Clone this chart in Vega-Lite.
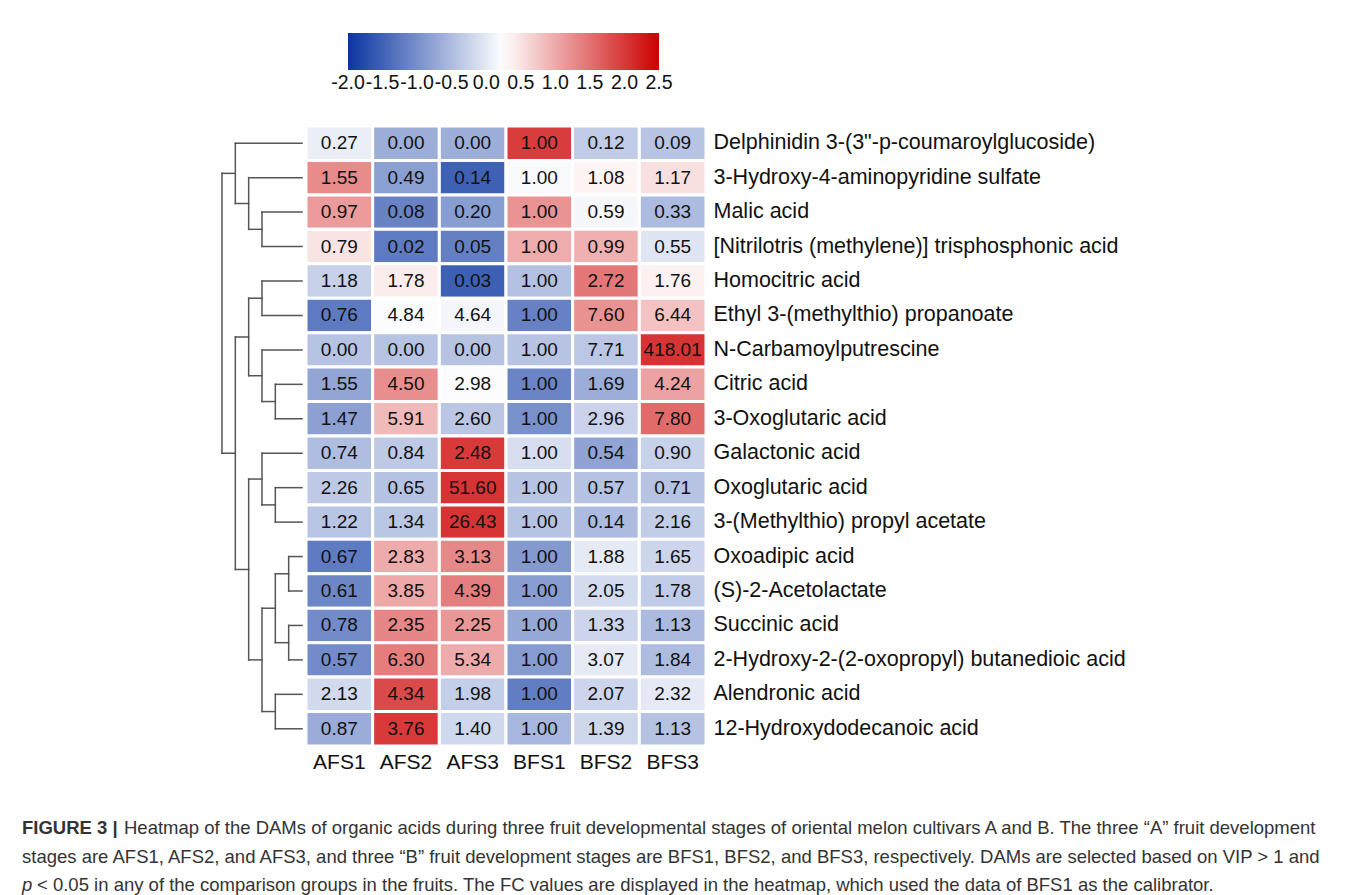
{
  "$schema": "https://vega.github.io/schema/vega-lite/v6.json",
  "background": "white",
  "padding": {"left": 22, "top": 33, "right": 0, "bottom": 0},
  "config": {"view": {"stroke": null}, "font": "Liberation Sans"},
  "datasets": {
    "cells": [
      {"m": "Delphinidin 3-(3\"-p-coumaroylglucoside)", "r": 1, "s": "AFS1", "fc": 0.27, "z": 0.06},
      {"m": "Delphinidin 3-(3\"-p-coumaroylglucoside)", "r": 1, "s": "AFS2", "fc": 0.00, "z": -0.65},
      {"m": "Delphinidin 3-(3\"-p-coumaroylglucoside)", "r": 1, "s": "AFS3", "fc": 0.00, "z": -0.65},
      {"m": "Delphinidin 3-(3\"-p-coumaroylglucoside)", "r": 1, "s": "BFS1", "fc": 1.00, "z": 1.97},
      {"m": "Delphinidin 3-(3\"-p-coumaroylglucoside)", "r": 1, "s": "BFS2", "fc": 0.12, "z": -0.33},
      {"m": "Delphinidin 3-(3\"-p-coumaroylglucoside)", "r": 1, "s": "BFS3", "fc": 0.09, "z": -0.41},
      {"m": "3-Hydroxy-4-aminopyridine sulfate", "r": 2, "s": "AFS1", "fc": 1.55, "z": 1.27},
      {"m": "3-Hydroxy-4-aminopyridine sulfate", "r": 2, "s": "AFS2", "fc": 0.49, "z": -0.82},
      {"m": "3-Hydroxy-4-aminopyridine sulfate", "r": 2, "s": "AFS3", "fc": 0.14, "z": -1.51},
      {"m": "3-Hydroxy-4-aminopyridine sulfate", "r": 2, "s": "BFS1", "fc": 1.00, "z": 0.19},
      {"m": "3-Hydroxy-4-aminopyridine sulfate", "r": 2, "s": "BFS2", "fc": 1.08, "z": 0.35},
      {"m": "3-Hydroxy-4-aminopyridine sulfate", "r": 2, "s": "BFS3", "fc": 1.17, "z": 0.52},
      {"m": "Malic acid", "r": 3, "s": "AFS1", "fc": 0.97, "z": 1.13},
      {"m": "Malic acid", "r": 3, "s": "AFS2", "fc": 0.08, "z": -1.14},
      {"m": "Malic acid", "r": 3, "s": "AFS3", "fc": 0.20, "z": -0.84},
      {"m": "Malic acid", "r": 3, "s": "BFS1", "fc": 1.00, "z": 1.20},
      {"m": "Malic acid", "r": 3, "s": "BFS2", "fc": 0.59, "z": 0.16},
      {"m": "Malic acid", "r": 3, "s": "BFS3", "fc": 0.33, "z": -0.51},
      {"m": "[Nitrilotris (methylene)] trisphosphonic acid", "r": 4, "s": "AFS1", "fc": 0.79, "z": 0.50},
      {"m": "[Nitrilotris (methylene)] trisphosphonic acid", "r": 4, "s": "AFS2", "fc": 0.02, "z": -1.23},
      {"m": "[Nitrilotris (methylene)] trisphosphonic acid", "r": 4, "s": "AFS3", "fc": 0.05, "z": -1.17},
      {"m": "[Nitrilotris (methylene)] trisphosphonic acid", "r": 4, "s": "BFS1", "fc": 1.00, "z": 0.98},
      {"m": "[Nitrilotris (methylene)] trisphosphonic acid", "r": 4, "s": "BFS2", "fc": 0.99, "z": 0.95},
      {"m": "[Nitrilotris (methylene)] trisphosphonic acid", "r": 4, "s": "BFS3", "fc": 0.55, "z": -0.04},
      {"m": "Homocitric acid", "r": 5, "s": "AFS1", "fc": 1.18, "z": -0.26},
      {"m": "Homocitric acid", "r": 5, "s": "AFS2", "fc": 1.78, "z": 0.41},
      {"m": "Homocitric acid", "r": 5, "s": "AFS3", "fc": 0.03, "z": -1.53},
      {"m": "Homocitric acid", "r": 5, "s": "BFS1", "fc": 1.00, "z": -0.45},
      {"m": "Homocitric acid", "r": 5, "s": "BFS2", "fc": 2.72, "z": 1.44},
      {"m": "Homocitric acid", "r": 5, "s": "BFS3", "fc": 1.76, "z": 0.38},
      {"m": "Ethyl 3-(methylthio) propanoate", "r": 6, "s": "AFS1", "fc": 0.76, "z": -1.23},
      {"m": "Ethyl 3-(methylthio) propanoate", "r": 6, "s": "AFS2", "fc": 4.84, "z": 0.22},
      {"m": "Ethyl 3-(methylthio) propanoate", "r": 6, "s": "AFS3", "fc": 4.64, "z": 0.15},
      {"m": "Ethyl 3-(methylthio) propanoate", "r": 6, "s": "BFS1", "fc": 1.00, "z": -1.15},
      {"m": "Ethyl 3-(methylthio) propanoate", "r": 6, "s": "BFS2", "fc": 7.60, "z": 1.21},
      {"m": "Ethyl 3-(methylthio) propanoate", "r": 6, "s": "BFS3", "fc": 6.44, "z": 0.79},
      {"m": "N-Carbamoylputrescine", "r": 7, "s": "AFS1", "fc": 0.00, "z": -0.42},
      {"m": "N-Carbamoylputrescine", "r": 7, "s": "AFS2", "fc": 0.00, "z": -0.42},
      {"m": "N-Carbamoylputrescine", "r": 7, "s": "AFS3", "fc": 0.00, "z": -0.42},
      {"m": "N-Carbamoylputrescine", "r": 7, "s": "BFS1", "fc": 1.00, "z": -0.41},
      {"m": "N-Carbamoylputrescine", "r": 7, "s": "BFS2", "fc": 7.71, "z": -0.37},
      {"m": "N-Carbamoylputrescine", "r": 7, "s": "BFS3", "fc": 418.01, "z": 2.04},
      {"m": "Citric acid", "r": 8, "s": "AFS1", "fc": 1.55, "z": -0.75},
      {"m": "Citric acid", "r": 8, "s": "AFS2", "fc": 4.50, "z": 1.25},
      {"m": "Citric acid", "r": 8, "s": "AFS3", "fc": 2.98, "z": 0.22},
      {"m": "Citric acid", "r": 8, "s": "BFS1", "fc": 1.00, "z": -1.12},
      {"m": "Citric acid", "r": 8, "s": "BFS2", "fc": 1.69, "z": -0.66},
      {"m": "Citric acid", "r": 8, "s": "BFS3", "fc": 4.24, "z": 1.07},
      {"m": "3-Oxoglutaric acid", "r": 9, "s": "AFS1", "fc": 1.47, "z": -0.81},
      {"m": "3-Oxoglutaric acid", "r": 9, "s": "AFS2", "fc": 5.91, "z": 0.86},
      {"m": "3-Oxoglutaric acid", "r": 9, "s": "AFS3", "fc": 2.60, "z": -0.38},
      {"m": "3-Oxoglutaric acid", "r": 9, "s": "BFS1", "fc": 1.00, "z": -0.98},
      {"m": "3-Oxoglutaric acid", "r": 9, "s": "BFS2", "fc": 2.96, "z": -0.25},
      {"m": "3-Oxoglutaric acid", "r": 9, "s": "BFS3", "fc": 7.80, "z": 1.56},
      {"m": "Galactonic acid", "r": 10, "s": "AFS1", "fc": 0.74, "z": -0.49},
      {"m": "Galactonic acid", "r": 10, "s": "AFS2", "fc": 0.84, "z": -0.35},
      {"m": "Galactonic acid", "r": 10, "s": "AFS3", "fc": 2.48, "z": 1.99},
      {"m": "Galactonic acid", "r": 10, "s": "BFS1", "fc": 1.00, "z": -0.12},
      {"m": "Galactonic acid", "r": 10, "s": "BFS2", "fc": 0.54, "z": -0.77},
      {"m": "Galactonic acid", "r": 10, "s": "BFS3", "fc": 0.90, "z": -0.26},
      {"m": "Oxoglutaric acid", "r": 11, "s": "AFS1", "fc": 2.26, "z": -0.35},
      {"m": "Oxoglutaric acid", "r": 11, "s": "AFS2", "fc": 0.65, "z": -0.43},
      {"m": "Oxoglutaric acid", "r": 11, "s": "AFS3", "fc": 51.60, "z": 2.04},
      {"m": "Oxoglutaric acid", "r": 11, "s": "BFS1", "fc": 1.00, "z": -0.41},
      {"m": "Oxoglutaric acid", "r": 11, "s": "BFS2", "fc": 0.57, "z": -0.43},
      {"m": "Oxoglutaric acid", "r": 11, "s": "BFS3", "fc": 0.71, "z": -0.42},
      {"m": "3-(Methylthio) propyl acetate", "r": 12, "s": "AFS1", "fc": 1.22, "z": -0.40},
      {"m": "3-(Methylthio) propyl acetate", "r": 12, "s": "AFS2", "fc": 1.34, "z": -0.39},
      {"m": "3-(Methylthio) propyl acetate", "r": 12, "s": "AFS3", "fc": 26.43, "z": 2.04},
      {"m": "3-(Methylthio) propyl acetate", "r": 12, "s": "BFS1", "fc": 1.00, "z": -0.42},
      {"m": "3-(Methylthio) propyl acetate", "r": 12, "s": "BFS2", "fc": 0.14, "z": -0.51},
      {"m": "3-(Methylthio) propyl acetate", "r": 12, "s": "BFS3", "fc": 2.16, "z": -0.31},
      {"m": "Oxoadipic acid", "r": 13, "s": "AFS1", "fc": 0.67, "z": -1.22},
      {"m": "Oxoadipic acid", "r": 13, "s": "AFS2", "fc": 2.83, "z": 0.99},
      {"m": "Oxoadipic acid", "r": 13, "s": "AFS3", "fc": 3.13, "z": 1.30},
      {"m": "Oxoadipic acid", "r": 13, "s": "BFS1", "fc": 1.00, "z": -0.88},
      {"m": "Oxoadipic acid", "r": 13, "s": "BFS2", "fc": 1.88, "z": 0.02},
      {"m": "Oxoadipic acid", "r": 13, "s": "BFS3", "fc": 1.65, "z": -0.22},
      {"m": "(S)-2-Acetolactate", "r": 14, "s": "AFS1", "fc": 0.61, "z": -1.09},
      {"m": "(S)-2-Acetolactate", "r": 14, "s": "AFS2", "fc": 3.85, "z": 1.03},
      {"m": "(S)-2-Acetolactate", "r": 14, "s": "AFS3", "fc": 4.39, "z": 1.38},
      {"m": "(S)-2-Acetolactate", "r": 14, "s": "BFS1", "fc": 1.00, "z": -0.84},
      {"m": "(S)-2-Acetolactate", "r": 14, "s": "BFS2", "fc": 2.05, "z": -0.15},
      {"m": "(S)-2-Acetolactate", "r": 14, "s": "BFS3", "fc": 1.78, "z": -0.33},
      {"m": "Succinic acid", "r": 15, "s": "AFS1", "fc": 0.78, "z": -1.04},
      {"m": "Succinic acid", "r": 15, "s": "AFS2", "fc": 2.35, "z": 1.32},
      {"m": "Succinic acid", "r": 15, "s": "AFS3", "fc": 2.25, "z": 1.17},
      {"m": "Succinic acid", "r": 15, "s": "BFS1", "fc": 1.00, "z": -0.71},
      {"m": "Succinic acid", "r": 15, "s": "BFS2", "fc": 1.33, "z": -0.22},
      {"m": "Succinic acid", "r": 15, "s": "BFS3", "fc": 1.13, "z": -0.52},
      {"m": "2-Hydroxy-2-(2-oxopropyl) butanedioic acid", "r": 16, "s": "AFS1", "fc": 0.57, "z": -1.04},
      {"m": "2-Hydroxy-2-(2-oxopropyl) butanedioic acid", "r": 16, "s": "AFS2", "fc": 6.30, "z": 1.40},
      {"m": "2-Hydroxy-2-(2-oxopropyl) butanedioic acid", "r": 16, "s": "AFS3", "fc": 5.34, "z": 0.99},
      {"m": "2-Hydroxy-2-(2-oxopropyl) butanedioic acid", "r": 16, "s": "BFS1", "fc": 1.00, "z": -0.86},
      {"m": "2-Hydroxy-2-(2-oxopropyl) butanedioic acid", "r": 16, "s": "BFS2", "fc": 3.07, "z": 0.02},
      {"m": "2-Hydroxy-2-(2-oxopropyl) butanedioic acid", "r": 16, "s": "BFS3", "fc": 1.84, "z": -0.50},
      {"m": "Alendronic acid", "r": 17, "s": "AFS1", "fc": 2.13, "z": -0.16},
      {"m": "Alendronic acid", "r": 17, "s": "AFS2", "fc": 4.34, "z": 1.85},
      {"m": "Alendronic acid", "r": 17, "s": "AFS3", "fc": 1.98, "z": -0.30},
      {"m": "Alendronic acid", "r": 17, "s": "BFS1", "fc": 1.00, "z": -1.19},
      {"m": "Alendronic acid", "r": 17, "s": "BFS2", "fc": 2.07, "z": -0.22},
      {"m": "Alendronic acid", "r": 17, "s": "BFS3", "fc": 2.32, "z": 0.01},
      {"m": "12-Hydroxydodecanoic acid", "r": 18, "s": "AFS1", "fc": 0.87, "z": -0.67},
      {"m": "12-Hydroxydodecanoic acid", "r": 18, "s": "AFS2", "fc": 3.76, "z": 2.00},
      {"m": "12-Hydroxydodecanoic acid", "r": 18, "s": "AFS3", "fc": 1.40, "z": -0.18},
      {"m": "12-Hydroxydodecanoic acid", "r": 18, "s": "BFS1", "fc": 1.00, "z": -0.55},
      {"m": "12-Hydroxydodecanoic acid", "r": 18, "s": "BFS2", "fc": 1.39, "z": -0.19},
      {"m": "12-Hydroxydodecanoic acid", "r": 18, "s": "BFS3", "fc": 1.13, "z": -0.43}
    ],
    "tree": [
      {"h1": 0, "h2": 5, "y1": 1, "y2": 1},
      {"h1": 0, "h2": 4, "y1": 2, "y2": 2},
      {"h1": 0, "h2": 3, "y1": 3, "y2": 3},
      {"h1": 0, "h2": 3, "y1": 4, "y2": 4},
      {"h1": 3, "h2": 4, "y1": 3.5, "y2": 3.5},
      {"h1": 4, "h2": 5, "y1": 2.75, "y2": 2.75},
      {"h1": 5, "h2": 6, "y1": 1.875, "y2": 1.875},
      {"h1": 0, "h2": 3, "y1": 5, "y2": 5},
      {"h1": 0, "h2": 3, "y1": 6, "y2": 6},
      {"h1": 0, "h2": 3, "y1": 7, "y2": 7},
      {"h1": 0, "h2": 2, "y1": 8, "y2": 8},
      {"h1": 0, "h2": 2, "y1": 9, "y2": 9},
      {"h1": 2, "h2": 3, "y1": 8.5, "y2": 8.5},
      {"h1": 3, "h2": 4, "y1": 5.5, "y2": 5.5},
      {"h1": 3, "h2": 4, "y1": 7.75, "y2": 7.75},
      {"h1": 4, "h2": 5, "y1": 6.625, "y2": 6.625},
      {"h1": 0, "h2": 3, "y1": 10, "y2": 10},
      {"h1": 0, "h2": 2, "y1": 11, "y2": 11},
      {"h1": 0, "h2": 2, "y1": 12, "y2": 12},
      {"h1": 2, "h2": 3, "y1": 11.5, "y2": 11.5},
      {"h1": 3, "h2": 4, "y1": 10.75, "y2": 10.75},
      {"h1": 0, "h2": 1, "y1": 13, "y2": 13},
      {"h1": 0, "h2": 1, "y1": 14, "y2": 14},
      {"h1": 0, "h2": 1, "y1": 15, "y2": 15},
      {"h1": 0, "h2": 1, "y1": 16, "y2": 16},
      {"h1": 1, "h2": 2, "y1": 13.5, "y2": 13.5},
      {"h1": 1, "h2": 2, "y1": 15.5, "y2": 15.5},
      {"h1": 2, "h2": 3, "y1": 14.5, "y2": 14.5},
      {"h1": 0, "h2": 2, "y1": 17, "y2": 17},
      {"h1": 0, "h2": 2, "y1": 18, "y2": 18},
      {"h1": 2, "h2": 3, "y1": 17.5, "y2": 17.5},
      {"h1": 3, "h2": 4, "y1": 16, "y2": 16},
      {"h1": 4, "h2": 5, "y1": 13.375, "y2": 13.375},
      {"h1": 5, "h2": 6, "y1": 10, "y2": 10},
      {"h1": 3, "h2": 3, "y1": 3, "y2": 4},
      {"h1": 4, "h2": 4, "y1": 2, "y2": 3.5},
      {"h1": 5, "h2": 5, "y1": 1, "y2": 2.75},
      {"h1": 3, "h2": 3, "y1": 5, "y2": 6},
      {"h1": 2, "h2": 2, "y1": 8, "y2": 9},
      {"h1": 3, "h2": 3, "y1": 7, "y2": 8.5},
      {"h1": 4, "h2": 4, "y1": 5.5, "y2": 7.75},
      {"h1": 2, "h2": 2, "y1": 11, "y2": 12},
      {"h1": 3, "h2": 3, "y1": 10, "y2": 11.5},
      {"h1": 1, "h2": 1, "y1": 13, "y2": 14},
      {"h1": 1, "h2": 1, "y1": 15, "y2": 16},
      {"h1": 2, "h2": 2, "y1": 13.5, "y2": 15.5},
      {"h1": 2, "h2": 2, "y1": 17, "y2": 18},
      {"h1": 3, "h2": 3, "y1": 14.5, "y2": 17.5},
      {"h1": 4, "h2": 4, "y1": 10.75, "y2": 16},
      {"h1": 5, "h2": 5, "y1": 6.625, "y2": 13.375},
      {"h1": 6, "h2": 6, "y1": 1.875, "y2": 10}
    ],
    "cap": [
      {"line": 1, "part": "b", "t": "FIGURE 3 |"},
      {"line": 1, "part": "r1", "t": "Heatmap of the DAMs of organic acids during three fruit developmental stages of oriental melon cultivars A and B. The three \u201cA\u201d fruit development"},
      {"line": 2, "part": "r", "t": "stages are AFS1, AFS2, and AFS3, and three \u201cB\u201d fruit development stages are BFS1, BFS2, and BFS3, respectively. DAMs are selected based on VIP > 1 and"},
      {"line": 3, "part": "i", "t": "p"},
      {"line": 3, "part": "r3", "t": "< 0.05 in any of the comparison groups in the fruits. The FC values are displayed in the heatmap, which used the data of BFS1 as the calibrator."}
    ]
  },
  "spacing": 47,
  "vconcat": [
    {
      "spacing": 0,
      "hconcat": [
        {
          "width": 280,
          "height": 620,
          "data": {"name": "tree"},
          "mark": {"type": "rule", "color": "#555555", "strokeWidth": 1.5, "strokeCap": "square"},
          "encoding": {
            "x": {"field": "h1", "type": "quantitative", "scale": {"domain": [0, 21], "reverse": true, "nice": false, "zero": false}, "axis": null},
            "x2": {"field": "h2"},
            "y": {"field": "y1", "type": "quantitative", "scale": {"domain": [0.5, 18.5], "reverse": true, "nice": false, "zero": false}, "axis": null},
            "y2": {"field": "y2"}
          }
        },
        {
          "width": 400,
          "height": 620,
          "data": {"name": "cells"},
          "encoding": {
            "x": {
              "field": "s", "type": "nominal",
              "sort": ["AFS1", "AFS2", "AFS3", "BFS1", "BFS2", "BFS3"],
              "scale": {"paddingInner": 0, "paddingOuter": 0},
              "axis": {"orient": "bottom", "title": null, "labelAngle": 0, "labelFontSize": 21, "labelFont": "Liberation Sans", "labelColor": "#111111", "ticks": false, "domain": false, "labelPadding": 5}
            },
            "y": {
              "field": "m", "type": "nominal",
              "sort": {"field": "r", "op": "min", "order": "ascending"},
              "scale": {"paddingInner": 0, "paddingOuter": 0},
              "axis": {"orient": "right", "title": null, "labelFontSize": 21.5, "labelFont": "Liberation Sans", "labelColor": "#111111", "ticks": false, "domain": false, "labelPadding": 7, "labelLimit": 1000}
            }
          },
          "layer": [
            {
              "mark": {"type": "rect", "stroke": "white", "strokeWidth": 3},
              "encoding": {
                "color": {
                  "field": "z", "type": "quantitative",
                  "scale": {"domain": [-2, 0.25, 2.5], "range": ["#0a35a0", "#ffffff", "#cc0000"], "interpolate": "rgb"},
                  "legend": {
                    "orient": "none", "legendX": 326, "legendY": -93, "direction": "horizontal",
                    "title": null, "gradientLength": 311, "gradientThickness": 37, "gradientStrokeWidth": 0,
                    "values": [-2, -1.5, -1, -0.5, 0, 0.5, 1, 1.5, 2, 2.5],
                    "labelExpr": "replace(format(datum.value, '.1f'), '\u2212', '-')",
                    "labelFontSize": 19.5, "labelFont": "Liberation Sans", "labelColor": "#111111",
                    "labelOffset": 4, "labelOverlap": false, "labelAlign": "center", "padding": 0,
                    "encode": {"labels": {"update": {"align": {"value": "center"}}}}
                  }
                }
              }
            },
            {
              "mark": {"type": "text", "fontSize": 19, "font": "Liberation Sans", "color": "#111111"},
              "encoding": {"text": {"field": "fc", "type": "quantitative", "format": ".2f"}}
            }
          ]
        }
      ]
    },
    {
      "width": 1300,
      "height": 57,
      "data": {"name": "cap"},
      "encoding": {
        "y": {"field": "line", "type": "ordinal", "scale": {"type": "point", "domain": [1, 2, 3], "padding": 0}, "axis": null},
        "x": {"value": 0},
        "text": {"field": "t"}
      },
      "layer": [
        {"transform": [{"filter": "datum.part == 'b'"}], "mark": {"type": "text", "align": "left", "baseline": "alphabetic", "fontSize": 18.5, "fontWeight": "bold", "color": "#333333", "font": "Liberation Sans"}},
        {"transform": [{"filter": "datum.part == 'r1'"}], "mark": {"type": "text", "align": "left", "baseline": "alphabetic", "fontSize": 18.5, "color": "#333333", "font": "Liberation Sans", "dx": 102}},
        {"transform": [{"filter": "datum.part == 'r'"}], "mark": {"type": "text", "align": "left", "baseline": "alphabetic", "fontSize": 18.5, "color": "#333333", "font": "Liberation Sans"}},
        {"transform": [{"filter": "datum.part == 'i'"}], "mark": {"type": "text", "align": "left", "baseline": "alphabetic", "fontSize": 18.5, "fontStyle": "italic", "color": "#333333", "font": "Liberation Sans"}},
        {"transform": [{"filter": "datum.part == 'r3'"}], "mark": {"type": "text", "align": "left", "baseline": "alphabetic", "fontSize": 18.5, "color": "#333333", "font": "Liberation Sans", "dx": 15}}
      ]
    }
  ]
}
